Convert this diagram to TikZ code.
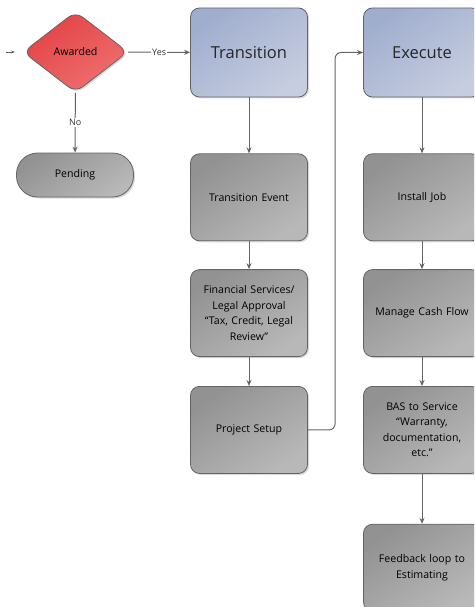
\documentclass[tikz,border=0pt]{standalone}
\usepackage{fontspec}
\setmainfont{Open Sans}
\usetikzlibrary{positioning,arrows.meta,shapes.geometric,shadows}
\definecolor{graydark}{RGB}{146,146,146}
\definecolor{graylight}{RGB}{184,184,184}
\definecolor{blueedge}{RGB}{160,174,206}
\definecolor{bluelight}{RGB}{198,205,224}
\definecolor{reddark}{RGB}{226,66,68}
\definecolor{redlight}{RGB}{240,112,112}
\definecolor{lineg}{RGB}{100,100,100}
\begin{document}
\begin{tikzpicture}[x=1pt,y=1pt,font=\fontsize{10.6}{15.5}\selectfont,
    basebox/.style={draw=lineg,line width=0.8pt,rounded corners=9pt,
      minimum width=117pt,align=center,inner sep=2pt,text=black,
      drop shadow={shadow xshift=1.5pt,shadow yshift=-1.5pt,opacity=0.3}},
    grayblk/.style={basebox,minimum height=87pt,text width=112pt,
      top color=graydark,bottom color=graylight,shading angle=35},
    phasebox/.style={basebox,minimum height=89pt,
      top color=blueedge,bottom color=bluelight,shading angle=35,
      font=\fontsize{16.5}{19}\selectfont,text=black!85},
    decision/.style={diamond,draw=lineg,line width=0.8pt,rounded corners=9pt,
      minimum width=105pt,minimum height=81pt,inner sep=0pt,
      top color=reddark,bottom color=redlight,shading angle=35,
      drop shadow={shadow xshift=1.5pt,shadow yshift=-1.5pt,opacity=0.3}},
    terminal/.style={basebox,rounded corners=21pt,minimum height=44pt,
      top color=graydark,bottom color=graylight,shading angle=35},
    conn/.style={draw=lineg,line width=1pt,-{Stealth[length=6pt,width=5pt]}},
    lbl/.style={fill=white,inner sep=1pt,font=\fontsize{9}{11}\selectfont,text=black!80}]
  \useasboundingbox (0,0) rectangle (474,-607);
  \clip (0,0) rectangle (474,-607);
  % decision and its outcomes
  \node[decision] (awarded) at (75.5,-52) {Awarded};
  \node[terminal] (pending) at (75,-175) {Pending};
  \coordinate (instub) at (6,-52);
  \coordinate (instubend) at (15,-52);
  % phase heads
  \node[phasebox] (trans) at (249,-52.5) {Transition};
  \node[phasebox] (exec) at (422,-52.5) {Execute};
  % transition column
  \node[grayblk,below=56pt of trans] (tevent) {Transition Event};
  \node[grayblk,below=28pt of tevent] (finance) {Financial Services/\\Legal Approval\\“Tax, Credit, Legal\\Review”};
  \node[grayblk,below=29pt of finance] (setup) {Project Setup};
  % execute column
  \node[grayblk,below=56pt of exec] (install) {Install Job};
  \node[grayblk,below=28pt of install] (cash) {Manage Cash Flow};
  \node[grayblk,below=29pt of cash] (bas) {BAS to Service\\“Warranty,\\documentation,\\etc.”};
  \node[grayblk,below=50pt of bas] (feedback) {Feedback loop to\\Estimating};
  % connectors
  \draw[conn,-{Stealth[length=4pt,width=3pt]},line width=0.6pt] (instub) -- (instubend);
  \draw[conn] (awarded) -- node[lbl]{Yes} (trans);
  \draw[conn] (awarded) -- node[lbl]{No} (pending);
  \draw[conn] (trans) -- (tevent);
  \draw[conn] (tevent) -- (finance);
  \draw[conn] (finance) -- (setup);
  \draw[conn,rounded corners=6pt] (setup.east) -| ([xshift=-28pt]exec.west) -- (exec.west);
  \draw[conn] (exec) -- (install);
  \draw[conn] (install) -- (cash);
  \draw[conn] (cash) -- (bas);
  \draw[conn] (bas) -- (feedback);
\end{tikzpicture}
\end{document}
